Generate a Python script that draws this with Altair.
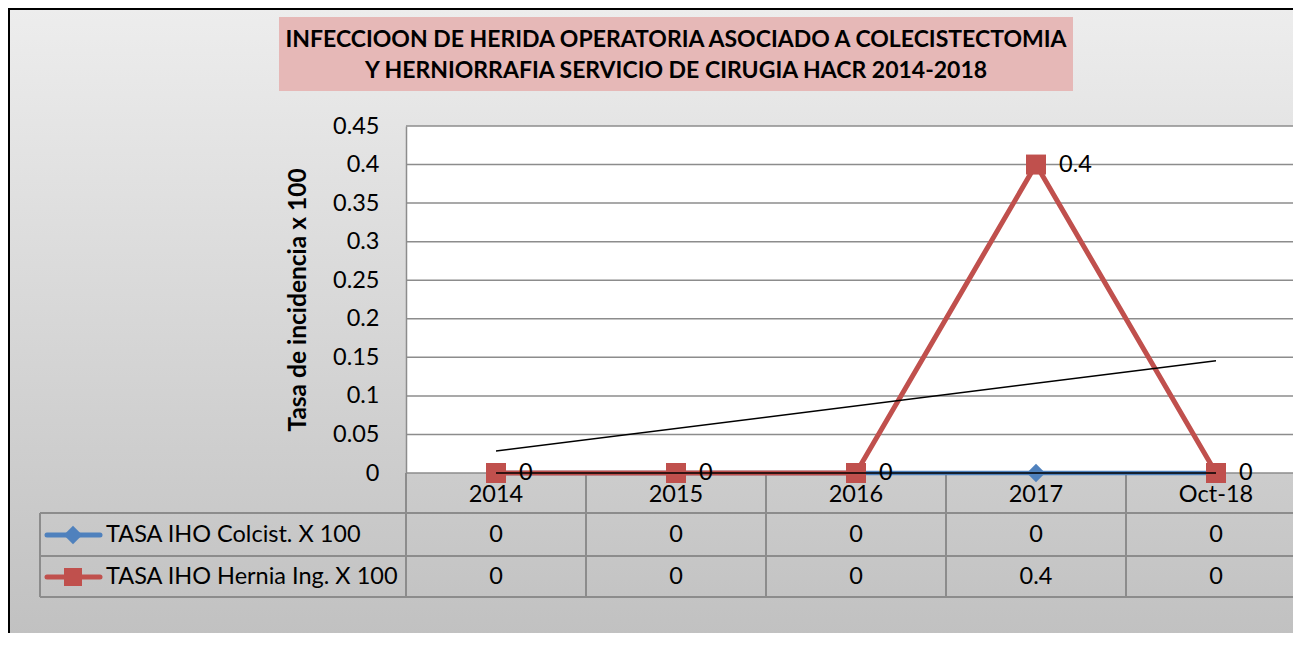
import altair as alt
import pandas as pd

# ---------------- data ----------------
cats = ["2014", "2015", "2016", "2017", "Oct-18"]
colcist = [0, 0, 0, 0, 0]
hernia = [0, 0, 0, 0.4, 0]
series_names = ["TASA IHO Colcist. X 100", "TASA IHO Hernia Ing. X 100"]

trend_cats = ["2014", "Oct-18"]
trend_colcist = [0.0, 0.0]
trend_hernia = [0.0285, 0.1456]

y_ticks = [0, 0.05, 0.1, 0.15, 0.2, 0.25, 0.3, 0.35, 0.4, 0.45]
title_lines = [
    "INFECCIOON DE HERIDA OPERATORIA ASOCIADO A COLECISTECTOMIA",
    "Y HERNIORRAFIA SERVICIO DE CIRUGIA HACR 2014-2018",
]
y_title = "Tasa de incidencia x 100"

# ---------------- styling ----------------
BLUE = "#4f81bd"
RED = "#c0504d"
GRID = "#8c8c8c"
FONT = "Lato"
FS = 23.5
W, H = 887, 347

df_col = pd.DataFrame({"cat": cats, "value": colcist})
df_her = pd.DataFrame({"cat": cats, "value": hernia})
df_cats = pd.DataFrame({"cat": cats})
df_tc = pd.DataFrame({"cat": trend_cats, "value": trend_colcist})
df_th = pd.DataFrame({"cat": trend_cats, "value": trend_hernia})
df_grid = pd.DataFrame({"value": y_ticks})
one = alt.Data(values=[{}])

xscale = alt.Scale(type="band", domain=cats, range=[0, 900], paddingInner=0, paddingOuter=0)
xenc = alt.X("cat:N", scale=xscale, axis=None, bandPosition=0.5)
xedge = alt.X("cat:N", scale=xscale, axis=None, bandPosition=0)
yenc = alt.Y(
    "value:Q",
    scale=alt.Scale(domain=[0, 0.45], nice=False),
    axis=alt.Axis(
        values=y_ticks, format="~g", grid=False, ticks=False,
        domainColor=GRID, domainWidth=1.5, labelPadding=27,
        labelFont=FONT, labelFontSize=FS, labelColor="black",
        title=y_title, titleFont=FONT, titleFontSize=24.5, titleFontWeight="bold",
        titleColor="black", titleX=-108, titleY=H / 2, titleAngle=270,
        titleBaseline="middle", titleAlign="center", zindex=1,
    ),
)

# background with gradient and border
bg = alt.Chart(one).mark_rect(
    fill=alt.LinearGradient(
        gradient="linear",
        stops=[alt.GradientStop(color="#ededed", offset=0),
               alt.GradientStop(color="#bfbfbf", offset=1)],
        x1=0, x2=0, y1=0, y2=1,
    ),
    stroke="black", strokeWidth=2,
).encode(x=alt.value(-397), x2=alt.value(W + 20), y=alt.value(-117), y2=alt.value(H + 190))

title_box = alt.Chart(one).mark_rect(fill="#e6b8b7").encode(
    x=alt.value(-127), x2=alt.value(667), y=alt.value(-109), y2=alt.value(-35)
)
title_l1 = alt.Chart(one).mark_text(
    text=title_lines[0], font=FONT, fontSize=23, fontWeight="bold", color="black",
    align="center", baseline="middle",
).encode(x=alt.value(270), y=alt.value(-86))
title_l2 = alt.Chart(one).mark_text(
    text=title_lines[1], font=FONT, fontSize=23, fontWeight="bold", color="black",
    align="center", baseline="middle",
).encode(x=alt.value(270), y=alt.value(-55))

plot_bg = alt.Chart(one).mark_rect(fill="white").encode(
    x=alt.value(0), x2=alt.value(900), y=alt.value(0), y2=alt.value(H)
)

grid = alt.Chart(df_grid).mark_rule(color=GRID, strokeWidth=1.5).encode(
    y=yenc, x=alt.value(0), x2=alt.value(900)
)

# table lines
tbl_rules = []
for yy in [387, 430, 471]:
    tbl_rules.append(alt.Chart(one).mark_rule(color=GRID, strokeWidth=2).encode(
        x=alt.value(-366), x2=alt.value(900), y=alt.value(yy)))
tbl_rules.append(alt.Chart(one).mark_rule(color=GRID, strokeWidth=2).encode(
    x=alt.value(-366), y=alt.value(387), y2=alt.value(471)))
tbl_vert = alt.Chart(df_cats).mark_rule(color=GRID, strokeWidth=2).encode(
    x=xedge, y=alt.value(H), y2=alt.value(471))

# series
line_col = alt.Chart(df_col).mark_line(color=BLUE, strokeWidth=4.5).encode(x=xenc, y=yenc)
pts_col = alt.Chart(df_col).mark_point(shape="diamond", filled=True, size=340, color=BLUE, opacity=1).encode(x=xenc, y=yenc)
line_her = alt.Chart(df_her).mark_line(color=RED, strokeWidth=5).encode(x=xenc, y=yenc)
pts_her = alt.Chart(df_her).mark_point(shape="square", filled=True, size=400, color=RED, opacity=1).encode(x=xenc, y=yenc)

trend_c = alt.Chart(df_tc).mark_line(color="black", strokeWidth=1.5).encode(x=xenc, y=yenc)
trend_h = alt.Chart(df_th).mark_line(color="black", strokeWidth=1.5).encode(x=xenc, y=yenc)

labels = alt.Chart(df_her).mark_text(
    align="left", baseline="middle", dx=23, font=FONT, fontSize=FS, color="black"
).encode(x=xenc, y=yenc, text=alt.Text("value:Q", format="~g"))

# table texts
cat_text = alt.Chart(df_cats).mark_text(
    font=FONT, fontSize=FS, color="black", baseline="middle"
).encode(x=xenc, y=alt.value(369), text="cat:N")
val_col = alt.Chart(df_col).mark_text(
    font=FONT, fontSize=FS, color="black", baseline="middle"
).encode(x=xenc, y=alt.value(409), text=alt.Text("value:Q", format="~g"))
val_her = alt.Chart(df_her).mark_text(
    font=FONT, fontSize=FS, color="black", baseline="middle"
).encode(x=xenc, y=alt.value(451), text=alt.Text("value:Q", format="~g"))

# legend keys in table
leg = []
for yy, col, shape, size, sw, name in [
    (409, BLUE, "diamond", 340, 5, series_names[0]),
    (451, RED, "square", 324, 5, series_names[1]),
]:
    leg.append(alt.Chart(one).mark_rule(color=col, strokeWidth=sw, strokeCap="round").encode(
        x=alt.value(-359), x2=alt.value(-306), y=alt.value(yy)))
    leg.append(alt.Chart(one).mark_point(shape=shape, filled=True, size=size, color=col, opacity=1).encode(
        x=alt.value(-333), y=alt.value(yy)))
    leg.append(alt.Chart(one).mark_text(
        text=name, font=FONT, fontSize=FS, color="black", align="left", baseline="middle"
    ).encode(x=alt.value(-300), y=alt.value(yy)))

chart = alt.layer(
    bg, title_box, title_l1, title_l2, plot_bg, grid, *tbl_rules, tbl_vert,
    line_col, pts_col, line_her, pts_her, trend_c, trend_h, labels,
    cat_text, val_col, val_her, *leg,
).properties(
    width=W, height=H,
    padding={"left": 398, "top": 118, "right": 0, "bottom": 160},
    autosize=alt.AutoSizeParams(type="none"),
    background="white",
).configure_view(stroke=None)

chart.save("out.html", embed_options={"renderer": "svg", "actions": False})
